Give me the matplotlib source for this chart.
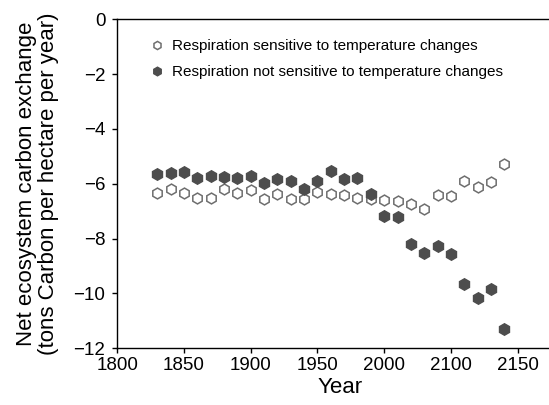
import numpy as np
import matplotlib
matplotlib.use("Agg")
import matplotlib.pyplot as plt

plt.rcParams['font.family'] = ['Liberation Sans', 'DejaVu Sans']

# data (years on the drawn axis)
years = np.arange(1830, 2100, 10)
sensitive = [-6.35, -6.18, -6.33, -6.50, -6.50, -6.18, -6.33, -6.22, -6.54, -6.37,
             -6.55, -6.56, -6.30, -6.38, -6.42, -6.52, -6.55, -6.58, -6.62, -6.73,
             -6.93, -6.42, -6.46, -5.88, -6.12, -5.93, -5.28]
not_sensitive = [-5.63, -5.60, -5.57, -5.78, -5.72, -5.75, -5.78, -5.73, -5.96, -5.83,
                 -5.90, -6.18, -5.88, -5.53, -5.83, -5.78, -6.36, -7.16, -7.22, -8.20,
                 -8.53, -8.28, -8.56, -9.65, -10.18, -9.84, -11.29]

xticks = [1800, 1850, 1900, 1950, 2000, 2050, 2100]
xtick_labels = ["1800", "1850", "1900", "1950", "2000", "2100", "2150"]
yticks = [0, -2, -4, -6, -8, -10, -12]

fig = plt.figure(figsize=(5.49, 4.05), dpi=100)
ax = fig.add_axes([117.3 / 549, 1 - 348.3 / 405, 445.7 / 549, 329 / 405])

ax.plot(years, not_sensitive, 'h', ms=8.3, color='#4d4d4d', mec='#4d4d4d',
        label='Respiration not sensitive to temperature changes', zorder=3)
ax.plot(years, sensitive, 'h', ms=7.8, mfc='white', mec='#6e6e6e', mew=1.1,
        label='Respiration sensitive to temperature changes', zorder=2)

ax.set_xlim(1800, 2134)
ax.set_ylim(-12, 0)
ax.set_xticks(xticks)
ax.set_xticklabels(xtick_labels)
ax.set_yticks(yticks)
ax.set_yticklabels([str(t).replace('-', '\u2212') for t in yticks])

for s in ax.spines.values():
    s.set_linewidth(1.0)
ax.spines['right'].set_visible(False)
ax.tick_params(direction='out', length=3.6, width=1.0)
ax.tick_params(axis='x', labelsize=13.5, pad=3)
ax.tick_params(axis='y', labelsize=13.5, pad=5)

ax.set_xlabel('Year', fontsize=16, labelpad=2)
ax.set_ylabel('Net ecosystem carbon exchange\n(tons Carbon per hectare per year)',
              fontsize=16, linespacing=1.05)
ax.yaxis.set_label_coords(-0.131, 0.5)

h, l = ax.get_legend_handles_labels()
ax.legend(h[::-1], l[::-1], loc='upper left', bbox_to_anchor=(0.0756, 0.94),
          frameon=False, fontsize=11, markerscale=0.75, handlelength=0.8,
          handletextpad=0.6, labelspacing=0.8, borderpad=0, borderaxespad=0)

fig.savefig('out.png', dpi=100, facecolor='w')
